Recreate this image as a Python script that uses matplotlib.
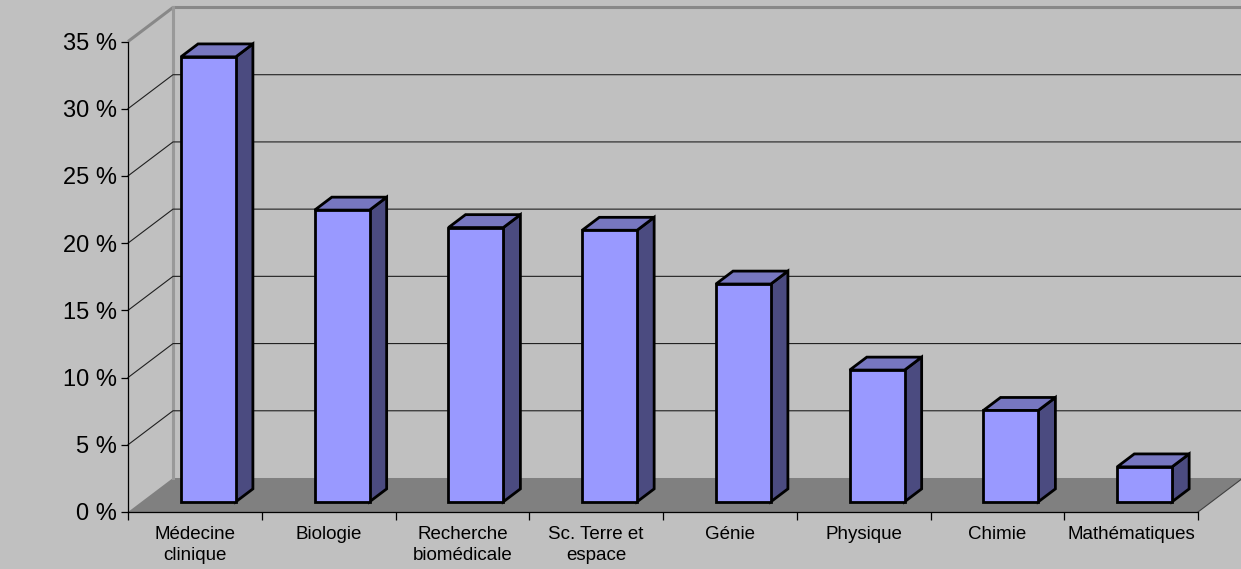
import matplotlib.pyplot as plt
from matplotlib.patches import Polygon
from matplotlib.ticker import FixedLocator, FuncFormatter

plt.rcParams['font.family'] = ['Liberation Sans', 'DejaVu Sans']

# Données
categories = ["Médecine\nclinique", "Biologie", "Recherche\nbiomédicale",
              "Sc. Terre et\nespace", "Génie", "Physique", "Chimie",
              "Mathématiques"]
values = [33.1, 21.7, 20.4, 20.2, 16.2, 9.8, 6.8, 2.6]
yticks = [0, 5, 10, 15, 20, 25, 30, 35]

# couleurs style Excel
bg = '#C0C0C0'
floor_col = '#808080'
front_col = '#9999FF'
top_col = '#7777C0'
side_col = '#4B4B80'

# profondeur (en unités de données)
DX = 45 / 133.75
DY = 34 / 13.44
d0, d1 = 0.30, 0.68
ymax = 35
n = len(categories)

fig = plt.figure(figsize=(12.41, 5.69), dpi=100, facecolor=bg)
ax = fig.add_axes([128 / 1241, 57 / 569, 1070 / 1241, 470.5 / 569])
ax.set_xlim(0, n)
ax.set_ylim(0, ymax)
ax.set_facecolor('none')

# sol
ax.add_patch(Polygon([(0, 0), (n, 0), (n + DX, DY), (DX, DY)], closed=True,
                     facecolor=floor_col, edgecolor='none', zorder=0.5, clip_on=False))
# mur du fond
ax.add_patch(Polygon([(DX, DY), (n + DX, DY), (n + DX, ymax + DY), (DX, ymax + DY)],
                     closed=True, facecolor=bg, edgecolor='none', zorder=0.4, clip_on=False))
# mur gauche
ax.add_patch(Polygon([(0, 0), (DX, DY), (DX, ymax + DY), (0, ymax)], closed=True,
                     facecolor=bg, edgecolor='none', zorder=0.4, clip_on=False))
# bordures grises
ax.plot([0, DX, n + DX], [ymax, ymax + DY, ymax + DY], color='#888888', lw=2.2,
        zorder=0.8, clip_on=False, solid_capstyle='butt')
ax.plot([DX, DX], [DY, ymax + DY], color='#999999', lw=2.2, zorder=0.8, clip_on=False)
ax.plot([n, n + DX], [0, DY], color='#404040', lw=0.8, zorder=0.8, clip_on=False)

# quadrillage
for v in yticks[1:-1]:
    ax.plot([0, DX, n + DX], [v, v + DY, v + DY], color='#202020', lw=0.8,
            zorder=1, clip_on=False)

# barres 3D
for i, v in enumerate(values):
    xl = i + 0.295 + d0 * DX
    xr = i + 0.705 + d0 * DX
    y0 = d0 * DY
    ddx = (d1 - d0) * DX
    ddy = (d1 - d0) * DY
    front = [(xl, y0), (xr, y0), (xr, y0 + v), (xl, y0 + v)]
    top = [(xl, y0 + v), (xr, y0 + v), (xr + ddx, y0 + v + ddy), (xl + ddx, y0 + v + ddy)]
    side = [(xr, y0), (xr + ddx, y0 + ddy), (xr + ddx, y0 + v + ddy), (xr, y0 + v)]
    for pts, col in [(side, side_col), (top, top_col), (front, front_col)]:
        ax.add_patch(Polygon(pts, closed=True, facecolor=col, edgecolor='black',
                             lw=2.0, joinstyle='miter', zorder=3, clip_on=False))

# axes
for s in ['top', 'right']:
    ax.spines[s].set_visible(False)
ax.spines['left'].set_color('black')
ax.spines['bottom'].set_color('black')
ax.spines['left'].set_linewidth(0.9)
ax.spines['bottom'].set_linewidth(0.9)

ax.yaxis.set_major_locator(FixedLocator(yticks))
ax.yaxis.set_major_formatter(FuncFormatter(lambda v, p: f"{int(v)} %"))
ax.tick_params(axis='y', length=5, width=0.9, pad=3, labelsize=17, colors='black')

ax.set_xticks(range(n + 1))
ax.set_xticklabels([])
ax.set_xticks([i + 0.5 for i in range(n)], minor=True)
ax.set_xticklabels(categories, minor=True, fontsize=13.5, linespacing=1.3)
ax.tick_params(axis='x', which='major', length=6, width=0.9, direction='out')
ax.tick_params(axis='x', which='minor', length=0, pad=10)
for t in ax.get_xticklabels(minor=True):
    t.set_verticalalignment('top')

fig.savefig('out.png', dpi=100, facecolor=bg)
